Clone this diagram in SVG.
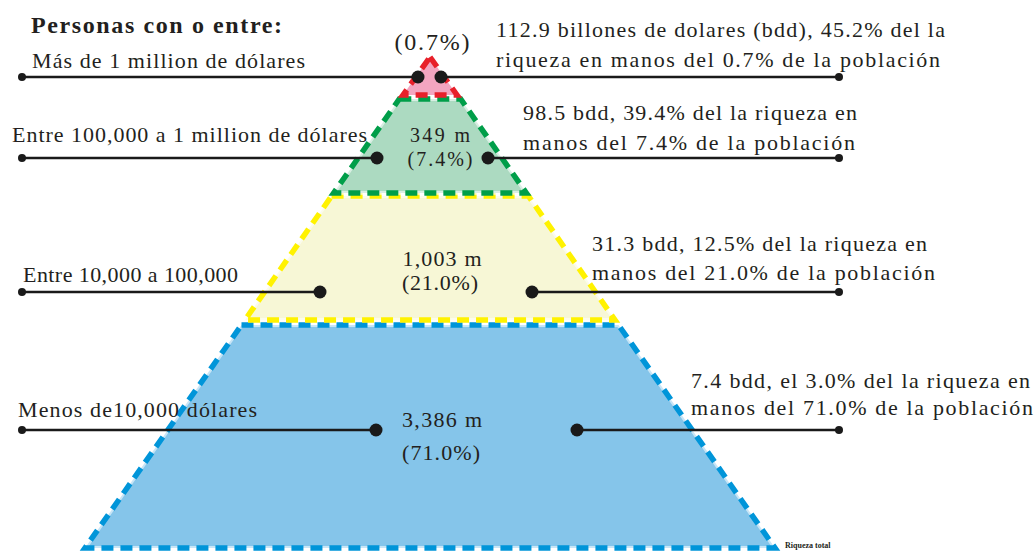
<svg xmlns="http://www.w3.org/2000/svg" width="1036" height="551" viewBox="0 0 1036 551">
<style>
text{font-family:"Liberation Serif","DejaVu Serif",serif;fill:#231f20;font-size:22px}
.b{font-weight:bold}
.c{text-anchor:middle}
.s20{font-size:20px}
.under{fill:none;stroke:#ffffff;stroke-opacity:0.55;stroke-width:4;stroke-linejoin:miter}
.dash{fill:none;stroke-width:5.5;stroke-dasharray:12 7}
.ln{stroke:#1a1a1a;stroke-width:2.6;fill:none}
.big{fill:#1a1a1a}
.sm{fill:#1a1a1a}
</style>
<rect width="1036" height="551" fill="#ffffff"/>

<g id="tier-blue">
<polygon points="241.5,325 618.5,325 775,548 85,548" fill="#85c5ea"/>
<polygon class="under" points="241.5,325 618.5,325 775,548 85,548"/>
<polygon class="dash" stroke="#0095d9" points="241.5,325 618.5,325 775,548 85,548"/>
<text class="c" x="442" y="427" textLength="80">3,386 m</text>
<text class="c" x="441" y="460" textLength="78">(71.0%)</text>
</g>

<g id="tier-yellow">
<polygon points="331.6,196 528.4,196 615,320 245,320" fill="#f7f7d6"/>
<polygon class="under" points="331.6,196 528.4,196 615,320 245,320"/>
<polygon class="dash" stroke="#fff200" points="331.6,196 528.4,196 615,320 245,320"/>
<text class="c" x="442" y="266" textLength="79">1,003 m</text>
<text class="c" x="440" y="290" textLength="76">(21.0%)</text>
</g>

<g id="tier-green">
<polygon points="399.3,99 460.7,99 526.3,193 333.7,193" fill="#acdac1"/>
<polygon class="under" points="399.3,99 460.7,99 526.3,193 333.7,193"/>
<polygon class="dash" stroke="#009e49" stroke-dasharray="11 6" points="399.3,99 460.7,99 526.3,193 333.7,193"/>
<text class="c s20" x="440" y="142" textLength="60">349 m</text>
<text class="c s20" x="440" y="166" textLength="65">(7.4%)</text>
</g>

<g id="tier-pink">
<polygon points="430,57 457,95 403,95" fill="#f3a5c0"/>
<polygon class="dash" stroke="#e8202a" stroke-dasharray="9 5" points="430,57 457,95 403,95"/>
<text class="c" x="432" y="50" style="font-size:24px" textLength="75">(0.7%)</text>
</g>

<g id="connectors">
<line class="ln" x1="22" y1="77" x2="418" y2="77"/>
<line class="ln" x1="441" y1="77" x2="839" y2="77"/>
<line class="ln" x1="22" y1="158" x2="377" y2="158"/>
<line class="ln" x1="488" y1="158" x2="839" y2="158"/>
<line class="ln" x1="22" y1="292" x2="320" y2="292"/>
<line class="ln" x1="532" y1="292" x2="839" y2="292"/>
<line class="ln" x1="22" y1="430" x2="376" y2="430"/>
<line class="ln" x1="577" y1="430" x2="839" y2="430"/>
<circle class="sm" cx="22" cy="77" r="4"/>
<circle class="big" cx="418" cy="77" r="6.5"/>
<circle class="big" cx="441" cy="77" r="6.5"/>
<circle class="sm" cx="839" cy="77" r="4"/>
<circle class="sm" cx="22" cy="158" r="4"/>
<circle class="big" cx="377" cy="158" r="6.5"/>
<circle class="big" cx="488" cy="158" r="6.5"/>
<circle class="sm" cx="839" cy="158" r="4"/>
<circle class="sm" cx="22" cy="292" r="4"/>
<circle class="big" cx="320" cy="292" r="6.5"/>
<circle class="big" cx="532" cy="292" r="6.5"/>
<circle class="sm" cx="839" cy="292" r="4"/>
<circle class="sm" cx="22" cy="430" r="4"/>
<circle class="big" cx="376" cy="430" r="6.5"/>
<circle class="big" cx="577" cy="430" r="6.5"/>
<circle class="sm" cx="839" cy="430" r="4"/>
</g>

<g id="left-labels">
<text class="b" x="31" y="33" style="font-size:24px" textLength="251">Personas con o entre:</text>
<text x="32" y="68" textLength="273">Más de 1 million de dólares</text>
<text x="12" y="142" textLength="355">Entre  100,000 a 1 million de dólares</text>
<text x="23" y="282" textLength="215">Entre 10,000 a 100,000</text>
<text x="18" y="417" textLength="239">Menos de10,000 dólares</text>
</g>

<g id="right-labels">
<text x="496" y="37" textLength="449">112.9 billones de dolares (bdd), 45.2% del la</text>
<text x="496" y="67" textLength="444">riqueza en manos del 0.7% de la población</text>
<text x="523" y="120" textLength="334">98.5 bdd, 39.4% del la riqueza en</text>
<text x="523" y="150" textLength="332">manos del 7.4% de la población</text>
<text x="592" y="251" textLength="335">31.3 bdd, 12.5% del la riqueza en</text>
<text x="592" y="280" textLength="343">manos del 21.0% de la población</text>
<text x="691" y="388" textLength="339">7.4 bdd, el 3.0% del la riqueza en</text>
<text x="691" y="415" textLength="342">manos del 71.0% de la población</text>
<text class="b" x="785" y="548" style="font-size:8px">Riqueza total</text>
</g>
</svg>
